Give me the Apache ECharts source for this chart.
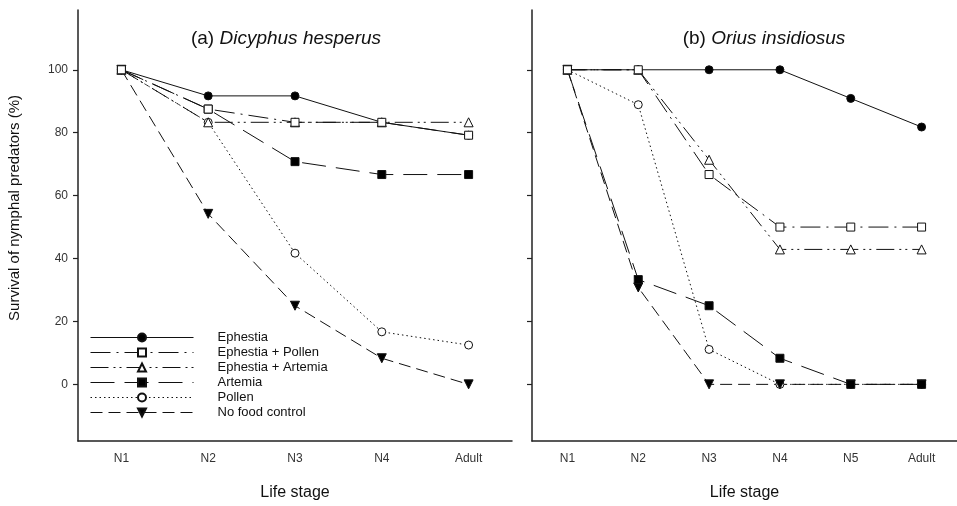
<!DOCTYPE html>
<html>
<head>
<meta charset="utf-8">
<script src="https://cdn.jsdelivr.net/npm/echarts@6/dist/echarts.min.js"></script>
<style>
html,body{margin:0;padding:0;background:#fff;}
#c{width:957px;height:506px;}
</style>
</head>
<body>
<div id="c"></div>
<script>
// ---- Data ----
var stagesA = ['N1', 'N2', 'N3', 'N4', 'Adult'];
var stagesB = ['N1', 'N2', 'N3', 'N4', 'N5', 'Adult'];
var seriesNames = ['Ephestia', 'Ephestia + Pollen', 'Ephestia + Artemia', 'Artemia', 'Pollen', 'No food control'];
var yTicks = [0, 20, 40, 60, 80, 100];

// (a) Dicyphus hesperus
var a_ephestia = [100, 91.7, 91.7, 83.3, 79.2];
var a_ephPollen = [100, 87.5, 83.3, 83.3, 79.2];
var a_ephArtemia = [100, 83.3, 83.3, 83.3, 83.3];
var a_artemia = [100, 87.5, 70.8, 66.7, 66.7];
var a_pollen = [100, 83.3, 41.7, 16.7, 12.5];
var a_noFood = [100, 54.2, 25.0, 8.3, 0];

// (b) Orius insidiosus
var b_ephestia = [100, 100, 100, 100, 90.9, 81.8];
var b_ephPollen = [100, 100, 66.7, 50, 50, 50];
var b_ephArtemia = [100, 100, 71.4, 42.9, 42.9, 42.9];
var b_artemia = [100, 33.3, 25.0, 8.3, 0, 0];
var b_pollen = [100, 88.9, 11.1, 0, 0, 0];
var b_noFood = [100, 30.8, 0, 0, 0, 0];

// ---- Styles ----
var LC = '#111';
var FONT = '"Liberation Sans", Arial, sans-serif';
var styles = {
  'Ephestia': {symbol: 'circle', size: 8, fill: '#000', dash: 'solid', rot: 0},
  'Ephestia + Pollen': {symbol: 'rect', size: 8, fill: '#fff', dash: [20, 6, 2, 6], rot: 0},
  'Ephestia + Artemia': {symbol: 'triangle', size: 9, fill: '#fff', dash: [18, 5, 2, 4, 2, 5], rot: 0},
  'Artemia': {symbol: 'rect', size: 8, fill: '#000', dash: [24, 10], rot: 0},
  'Pollen': {symbol: 'circle', size: 8, fill: '#fff', dash: [1.5, 3], rot: 0},
  'No food control': {symbol: 'triangle', size: 9, fill: '#000', dash: [12, 6], rot: 180}
};

function mk(name, data, idx) {
  var s = styles[name];
  return {
    name: name,
    type: 'line',
    xAxisIndex: idx,
    yAxisIndex: idx,
    data: data,
    symbol: s.symbol,
    symbolSize: s.size,
    symbolRotate: s.rot,
    showAllSymbol: true,
    animation: false,
    lineStyle: {color: LC, width: 1, type: s.dash},
    itemStyle: {color: s.fill, borderColor: LC, borderWidth: 1, opacity: 1},
    emphasis: {disabled: true}
  };
}

// drawing order (later on top)
var order = ['Pollen', 'No food control', 'Artemia', 'Ephestia', 'Ephestia + Artemia', 'Ephestia + Pollen'];
var dataA = {
  'Ephestia': a_ephestia, 'Ephestia + Pollen': a_ephPollen, 'Ephestia + Artemia': a_ephArtemia,
  'Artemia': a_artemia, 'Pollen': a_pollen, 'No food control': a_noFood
};
var dataB = {
  'Ephestia': b_ephestia, 'Ephestia + Pollen': b_ephPollen, 'Ephestia + Artemia': b_ephArtemia,
  'Artemia': b_artemia, 'Pollen': b_pollen, 'No food control': b_noFood
};
var series = [];
order.forEach(function (n) { series.push(mk(n, dataA[n], 0)); });
order.forEach(function (n) { series.push(mk(n, dataB[n], 1)); });

function xAx(idx, cats) {
  return {
    type: 'category', gridIndex: idx, data: cats, boundaryGap: true,
    name: 'Life stage', nameLocation: 'middle', nameGap: 44,
    nameTextStyle: {fontSize: 16, color: '#111', fontFamily: FONT},
    axisLine: {onZero: false, lineStyle: {color: '#222', width: 1.5}},
    axisTick: {alignWithLabel: true, length: 6, lineStyle: {color: '#222', width: 1.2}},
    axisLabel: {fontSize: 12, color: '#333', margin: 12, fontFamily: FONT},
    splitLine: {show: false}
  };
}
function yAx(idx, showLabels) {
  return {
    type: 'value', gridIndex: idx, min: -18, max: 119,
    axisLine: {show: true, onZero: false, lineStyle: {color: '#222', width: 1.5}},
    axisTick: {show: true, length: 5, customValues: yTicks, lineStyle: {color: '#222', width: 1.2}},
    axisLabel: {show: showLabels, customValues: yTicks, fontSize: 12, color: '#333', margin: 10, fontFamily: FONT},
    splitLine: {show: false}
  };
}

function titleOpt(prefix, species, cx) {
  return {
    text: '{n|' + prefix + ' }{i|' + species + '}', left: cx - 5, top: 24, textAlign: 'center',
    textStyle: {fontWeight: 'normal', rich: {
      n: {fontSize: 19, color: '#111', fontWeight: 'normal', fontFamily: FONT},
      i: {fontSize: 19, color: '#111', fontWeight: 'normal', fontStyle: 'italic', fontFamily: FONT}
    }}
  };
}

var chart = echarts.init(document.getElementById('c'), null, {renderer: 'canvas'});
chart.setOption({
  backgroundColor: '#fff',
  animation: false,
  title: [
    titleOpt('(a)', 'Dicyphus hesperus', 286),
    titleOpt('(b)', 'Orius insidiosus', 764)
  ],
  grid: [
    {left: 78, top: 10, width: 434, height: 433, containLabel: false},
    {left: 532, top: 10, width: 433, height: 433, containLabel: false}
  ],
  xAxis: [xAx(0, stagesA), xAx(1, stagesB)],
  yAxis: [yAx(0, true), yAx(1, false)],
  legend: {
    data: seriesNames,
    orient: 'vertical',
    left: 90, top: 331, padding: 0,
    itemWidth: 103, itemHeight: 10, itemGap: 2,
    selectedMode: false,
    lineStyle: {width: 1},
    textStyle: {fontSize: 13, lineHeight: 11, color: '#111', fontFamily: FONT, padding: [0, 0, 0, 19]}
  },
  graphic: [
    {
      type: 'text', x: 15, y: 208, rotation: Math.PI / 2,
      style: {text: 'Survival of nymphal predators (%)', fontSize: 15, fill: '#111',
        fontFamily: FONT, align: 'center', verticalAlign: 'middle'}
    }
  ],
  series: series
});
</script>
</body>
</html>
